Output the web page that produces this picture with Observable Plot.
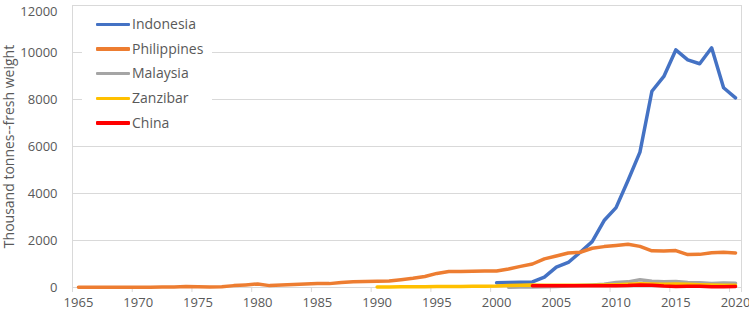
<!DOCTYPE html>
<html>
<head>
<meta charset="utf-8">
<script src="https://cdn.jsdelivr.net/npm/d3@7"></script>
<script src="https://cdn.jsdelivr.net/npm/@observablehq/plot@0.6"></script>
<style>
  html, body { margin: 0; padding: 0; background: #fff; }
  #wrap { position: relative; width: 749px; height: 311px; font-family: "Open Sans", sans-serif; }
  #legend { position: absolute; left: 82px; top: 11px; width: 130px; height: 126px; background: #fff; }
  .row { position: absolute; left: 0; height: 20px; }
  .sw { position: absolute; left: 14px; width: 34px; height: 3.5px; border-radius: 1px; }
  .lbl { position: absolute; left: 50px; font-size: 14px; color: #595959; line-height: 20px; white-space: nowrap; }
</style>
</head>
<body>
<div id="wrap"></div>
<script>
const series = ["Indonesia", "Philippines", "Malaysia", "Zanzibar", "China"];
const colors = ["#4472C4", "#ED7D31", "#A5A5A5", "#FFC000", "#FF0000"];

const indonesiaYears = d3.range(2000, 2021);
const indonesia = [200, 215, 225, 235, 440, 865, 1065, 1500, 1950, 2850, 3400, 4550, 5760, 8350, 8980, 10110, 9690, 9520, 10200, 8500, 8070];

const philippinesYears = d3.range(1965, 2021);
const philippines = [10, 10, 10, 10, 12, 12, 14, 16, 25, 40, 30, 25, 30, 80, 110, 150, 80, 105, 125, 145,
  175, 165, 215, 240, 255, 270, 280, 330, 390, 470, 600, 680, 680, 690, 700, 700, 790, 900, 1000, 1220,
  1340, 1470, 1500, 1670, 1740, 1790, 1840, 1750, 1560, 1550, 1570, 1400, 1410, 1480, 1500, 1470];

const malaysiaYears = d3.range(2001, 2021);
const malaysia = [15, 20, 25, 30, 40, 60, 90, 110, 140, 210, 240, 330, 270, 245, 260, 210, 200, 175, 190, 180];

const zanzibarYears = d3.range(1990, 2021);
const zanzibar = [20, 25, 30, 30, 35, 40, 40, 45, 50, 55, 60, 80, 100, 110, 100, 100, 100, 100, 100, 110,
  120, 140, 160, 150, 140, 150, 140, 120, 110, 100, 100];

const chinaYears = d3.range(2003, 2021);
const china = [70, 70, 70, 70, 75, 70, 70, 75, 85, 110, 100, 60, 40, 50, 50, 30, 30, 40];

const yTicks = [0, 2000, 4000, 6000, 8000, 10000, 12000];
const xLabelTicks = d3.range(1965, 2021, 5);
const xTickMarks = d3.range(1964.5, 2021, 5).concat([2020.5]);

const years = [indonesiaYears, philippinesYears, malaysiaYears, zanzibarYears, chinaYears];
const values = [indonesia, philippines, malaysia, zanzibar, china];
const data = [];
series.forEach((s, i) => years[i].forEach((yr, j) => data.push({series: s, year: yr, value: values[i][j]})));

const chart = Plot.plot({
  width: 749,
  height: 311,
  marginLeft: 72,
  marginRight: 8,
  marginTop: 5,
  marginBottom: 24,
  style: {fontFamily: "'Open Sans', sans-serif", fontSize: "13px", color: "#595959", background: "#fff"},
  x: {domain: [1964.5, 2020.5]},
  y: {domain: [0, 12000]},
  color: {domain: series, range: colors},
  marks: [
    Plot.gridY(yTicks, {stroke: "#d9d9d9", strokeOpacity: 1}),
    Plot.frame({stroke: "#d9d9d9"}),
    Plot.ruleY([0], {stroke: "#d9d9d9"}),
    Plot.axisY(yTicks, {tickSize: 0, tickPadding: 15, fontSize: 13, fill: "#595959", tickFormat: d => String(d), label: null}),
    Plot.axisY({label: "Thousand tonnes--fresh weight", labelAnchor: "center", labelArrow: "none", labelOffset: 68,
      ticks: [], fontSize: 14, fill: "#595959"}),
    Plot.axisX(xTickMarks, {tickSize: 5, stroke: "#d9d9d9", text: null, label: null}),
    Plot.axisX(xLabelTicks, {tickSize: 0, tickPadding: 10, tickFormat: d => String(d), fontSize: 13, fill: "#595959", label: null}),
    Plot.line(data, {x: "year", y: "value", z: "series", stroke: "series", strokeWidth: 3.5, strokeLinejoin: "round", strokeLinecap: "round"})
  ]
});

const wrap = document.getElementById("wrap");
wrap.appendChild(chart);
chart.querySelectorAll("text").forEach(t => {
  t.setAttribute("fill", "#595959");
  if (t.textContent === "12000") t.setAttribute("dy", "0.5em");
});

const legend = document.createElement("div");
legend.id = "legend";
series.forEach((s, i) => {
  const row = document.createElement("div");
  row.className = "row";
  row.style.top = (3 + i * 24.7) + "px";
  row.style.width = "130px";
  const sw = document.createElement("div");
  sw.className = "sw";
  sw.style.top = "8.5px";
  sw.style.background = colors[i];
  const lb = document.createElement("div");
  lb.className = "lbl";
  lb.textContent = s;
  row.appendChild(sw);
  row.appendChild(lb);
  legend.appendChild(row);
});
wrap.appendChild(legend);
</script>
</body>
</html>
